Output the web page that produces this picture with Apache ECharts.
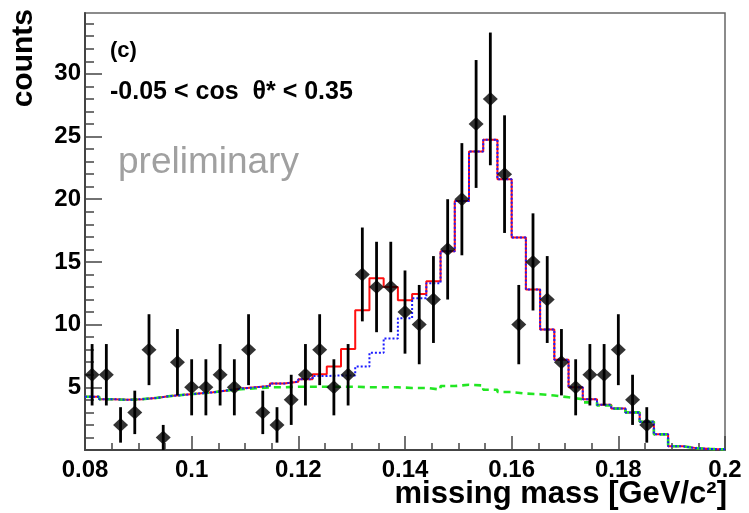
<!DOCTYPE html>
<html>
<head>
<meta charset="utf-8">
<script src="https://cdn.jsdelivr.net/npm/echarts@6/dist/echarts.min.js"></script>
<style>
  html, body { margin: 0; padding: 0; background: #fff; }
  #chart { width: 749px; height: 513px; }
</style>
</head>
<body>
<div id="chart"></div>
<script>
// ---- data ----
const xMin = 0.08;
const xMax = 0.2;
const nBins = 45;

// measured counts (bins 0..39; bins 40..44 are empty)
const dataCounts = [6, 6, 2, 3, 8, 1, 7, 5, 5, 6, 5, 8, 3, 2, 4, 6, 8, 5, 6, 14,
                    13, 13, 11, 10, 12, 16, 20, 26, 28, 22, 10, 15, 12, 7, 5, 6, 6, 8, 4, 2];

// total fit (red, solid)
const fitTotal = [4.25, 4.05, 4.0, 4.05, 4.15, 4.3, 4.4, 4.5, 4.6, 4.75,
                  4.9, 5.0, 5.1, 5.3, 5.45, 5.65, 6.05, 6.65, 8.05, 11.15,
                  13.7, 13.0, 11.95, 12.45, 13.45, 15.85, 19.85, 23.8, 24.75, 21.6,
                  16.95, 12.8, 9.6, 7.2, 5.0, 4.05, 3.6, 3.3, 3.0, 2.25,
                  1.25, 0.3, 0.15, 0.08, 0.05];

// blue dotted component
const fitBlue = [4.25, 4.05, 4.0, 4.05, 4.15, 4.3, 4.4, 4.5, 4.6, 4.75,
                 4.9, 5.0, 5.1, 5.3, 5.45, 5.65, 5.9, 5.95, 5.95, 6.65,
                 7.75, 8.9, 10.5, 12.1, 13.3, 15.85, 19.85, 23.8, 24.75, 21.6,
                 16.95, 12.8, 9.6, 7.2, 5.0, 4.05, 3.6, 3.3, 3.0, 2.25,
                 1.25, 0.3, 0.15, 0.08, 0.05];

// green dashed background
const fitBackground = [4.25, 4.05, 4.0, 4.05, 4.15, 4.3, 4.4, 4.5, 4.6, 4.75,
                       4.85, 4.92, 5.0, 5.0, 5.05, 5.05, 5.05, 5.05, 5.05, 5.0,
                       5.0, 5.0, 4.95, 4.95, 4.82, 5.1, 5.2, 5.15, 4.8, 4.62,
                       4.5, 4.45, 4.35, 4.2, 4.05, 3.8, 3.55, 3.3, 3.0, 2.25,
                       1.25, 0.3, 0.15, 0.08, 0.05];

const xTickValues = [0.08, 0.1, 0.12, 0.14, 0.16, 0.18, 0.2];
const yTickValues = [0, 5, 10, 15, 20, 25, 30];
const yLabelValues = [5, 10, 15, 20, 25, 30];
const yMax = 34.85;

// ---- derived helpers ----
const binW = (xMax - xMin) / nBins;
function edge(i) { return xMin + i * binW; }
function center(i) { return xMin + (i + 0.5) * binW; }
function stepData(arr) {
  const out = [];
  arr.forEach((v, i) => { out.push([edge(i), v]); out.push([edge(i + 1), v]); });
  return out;
}
const pointData = dataCounts.map((v, i) => [center(i), v]);

const xMinorTicks = [];
for (let k = 0; k <= 24; k++) xMinorTicks.push(+(xMin + k * 0.005).toFixed(3));
const yMinorTicks = [];
for (let k = 0; k <= 34; k++) yMinorTicks.push(k);

const FONT = "'Liberation Sans', Arial, Helvetica, sans-serif";
const axisColor = '#444';

const chart = echarts.init(document.getElementById('chart'), null, { renderer: 'canvas' });
chart.setOption({
  animation: false,
  backgroundColor: '#ffffff',
  grid: { left: 85, right: 24, top: 13, bottom: 63, show: true, borderColor: '#666', borderWidth: 1.5, backgroundColor: 'transparent' },
  xAxis: [
    {
      type: 'value', min: xMin, max: xMax, interval: 0.02, position: 'bottom',
      axisLine: { show: true, onZero: false, lineStyle: { color: axisColor, width: 2 } },
      axisTick: { show: true, inside: true, length: 14, customValues: xTickValues, lineStyle: { color: axisColor, width: 1.5 } },
      axisLabel: {
        customValues: xTickValues, margin: 8, color: '#000', fontSize: 24, fontWeight: 'bold', fontFamily: FONT,
        formatter: v => String(+v.toFixed(2))
      },
      splitLine: { show: false }
    },
    {
      type: 'value', min: xMin, max: xMax, position: 'bottom',
      axisLine: { show: false, onZero: false },
      axisTick: { show: true, inside: true, length: 7, customValues: xMinorTicks, lineStyle: { color: axisColor, width: 1.5 } },
      axisLabel: { show: false },
      splitLine: { show: false }
    }
  ],
  yAxis: [
    {
      type: 'value', min: 0, max: yMax, interval: 5, position: 'left',
      axisLine: { show: true, onZero: false, lineStyle: { color: axisColor, width: 2 } },
      axisTick: { show: true, inside: true, length: 17, customValues: yTickValues, lineStyle: { color: axisColor, width: 1.5 } },
      axisLabel: { customValues: yLabelValues, margin: 4, color: '#000', fontSize: 24, fontWeight: 'bold', fontFamily: FONT },
      splitLine: { show: false }
    },
    {
      type: 'value', min: 0, max: yMax, position: 'left',
      axisLine: { show: false, onZero: false },
      axisTick: { show: true, inside: true, length: 9, customValues: yMinorTicks, lineStyle: { color: axisColor, width: 1.5 } },
      axisLabel: { show: false },
      splitLine: { show: false }
    }
  ],
  series: [
    {
      name: 'total', type: 'line', data: stepData(fitTotal), showSymbol: false, symbol: 'none', z: 2,
      lineStyle: { color: '#ff1010', width: 2 }
    },
    {
      name: 'background', type: 'line', data: stepData(fitBackground), showSymbol: false, symbol: 'none', z: 3,
      lineStyle: { color: '#22e622', width: 2.6, type: [7, 5] }
    },
    {
      name: 'component', type: 'line', data: stepData(fitBlue), showSymbol: false, symbol: 'none', z: 4,
      lineStyle: { color: '#1a1aff', width: 2, type: [2, 2] }
    },
    {
      name: 'errors', type: 'custom', z: 5,
      data: pointData,
      renderItem: function (params, api) {
        const x = api.value(0), v = api.value(1), e = Math.sqrt(v);
        const p1 = api.coord([x, Math.max(0, v - e)]);
        const p2 = api.coord([x, v + e]);
        return {
          type: 'line',
          shape: { x1: p1[0], y1: p1[1], x2: p2[0], y2: p2[1] },
          style: { stroke: '#000', lineWidth: 2.8 }
        };
      }
    },
    {
      name: 'data', type: 'scatter', z: 6, data: pointData,
      symbol: 'diamond', symbolSize: [15, 14],
      itemStyle: { color: '#000' }
    }
  ],
  graphic: [
    { type: 'text', x: 110, y: 51, style: { text: '(c)', fontSize: 22, fontWeight: 'bold', fontFamily: FONT, fill: '#000', verticalAlign: 'middle', align: 'left' } },
    { type: 'text', x: 110, y: 92, style: { text: '-0.05 < cos  θ* < 0.35', fontSize: 25, fontWeight: 'bold', fontFamily: FONT, fill: '#000', verticalAlign: 'middle', align: 'left' } },
    { type: 'text', x: 118, y: 163, style: { text: 'preliminary', fontSize: 37, fontFamily: FONT, fill: '#a0a0a0', verticalAlign: 'middle', align: 'left' } },
    { type: 'text', x: 24, y: 9, rotation: Math.PI / 2, style: { text: 'counts', fontSize: 30, fontWeight: 'bold', fontFamily: FONT, fill: '#000', verticalAlign: 'middle', align: 'right' } },
    { type: 'text', x: 727, y: 494, style: { text: 'missing mass [GeV/c²]', fontSize: 31, fontWeight: 'bold', fontFamily: FONT, fill: '#000', verticalAlign: 'middle', align: 'right' } }
  ]
});
</script>
</body>
</html>
